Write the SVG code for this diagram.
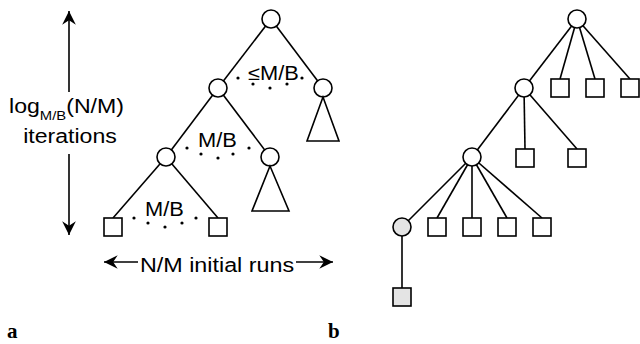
<svg xmlns="http://www.w3.org/2000/svg" width="640" height="344" viewBox="0 0 640 344">
<defs>
<style>
.e{stroke:#000;stroke-width:1.6;fill:none}
.n{fill:#fff;stroke:#000;stroke-width:1.6}
.g{fill:#e4e4e4;stroke:#000;stroke-width:1.6}
.t{font-family:"Liberation Sans",Arial,sans-serif;fill:#000}
.d{fill:#000}
.lab{font-family:"Liberation Serif","Times New Roman",serif;font-weight:bold;font-size:21px;fill:#000}
</style>
<marker id="ah" markerUnits="userSpaceOnUse" markerWidth="16" markerHeight="16" viewBox="-13 -7 14 14" refX="0" refY="0" orient="auto">
<path d="M0,0 L-12,-6 L-8,0 L-12,6 Z" fill="#000"/>
</marker>
</defs>
<rect width="640" height="344" fill="#fff"/>

<g id="connectors">
<!-- panel a -->
<line class="e" x1="271" y1="19" x2="218" y2="88"/>
<line class="e" x1="271" y1="19" x2="323" y2="88"/>
<line class="e" x1="218" y1="88" x2="166" y2="157"/>
<line class="e" x1="218" y1="88" x2="270" y2="157"/>
<line class="e" x1="166" y1="157" x2="113" y2="218"/>
<line class="e" x1="166" y1="157" x2="218" y2="218"/>
<!-- panel b -->
<line class="e" x1="577" y1="19" x2="524" y2="88"/>
<line class="e" x1="577" y1="19" x2="560" y2="79"/>
<line class="e" x1="577" y1="19" x2="595" y2="79"/>
<line class="e" x1="577" y1="19" x2="630" y2="79"/>
<line class="e" x1="524" y1="88" x2="472" y2="157"/>
<line class="e" x1="524" y1="88" x2="525" y2="149"/>
<line class="e" x1="524" y1="88" x2="577" y2="149"/>
<line class="e" x1="472" y1="157" x2="402" y2="227"/>
<line class="e" x1="472" y1="157" x2="437" y2="218"/>
<line class="e" x1="472" y1="157" x2="472" y2="218"/>
<line class="e" x1="472" y1="157" x2="507" y2="218"/>
<line class="e" x1="472" y1="157" x2="542" y2="218"/>
<line class="e" x1="402" y1="227" x2="402" y2="288"/>
<!-- dimension arrows -->
<line class="e" x1="69" y1="92" x2="69" y2="11" marker-end="url(#ah)"/>
<line class="e" x1="69" y1="154" x2="69" y2="235" marker-end="url(#ah)"/>
<line class="e" x1="138" y1="262" x2="104" y2="262" marker-end="url(#ah)"/>
<line class="e" x1="296" y1="262" x2="333" y2="262" marker-end="url(#ah)"/>
</g>

<g id="a-root"><circle class="n" cx="271" cy="19" r="9"/></g>
<g id="a-l1"><circle class="n" cx="218" cy="88" r="9"/></g>
<g id="a-r1"><circle class="n" cx="323" cy="88" r="9"/><polygon class="n" points="323,97 307,141 339,141"/></g>
<g id="a-l2"><circle class="n" cx="166" cy="157" r="9"/></g>
<g id="a-r2"><circle class="n" cx="270" cy="157" r="9"/><polygon class="n" points="270,166 252,211 289,211"/></g>
<g id="a-s1"><rect class="n" x="104" y="218" width="18" height="18"/></g>
<g id="a-s2"><rect class="n" x="209" y="218" width="18" height="18"/></g>

<g id="a-labels">
<g transform="translate(248,80) scale(1.12,1)"><text class="t" x="0" y="0" font-size="19.5">≤M/B</text></g>
<g transform="translate(198,147) scale(1.12,1)"><text class="t" x="0" y="0" font-size="19.5">M/B</text></g>
<g transform="translate(145,216) scale(1.12,1)"><text class="t" x="0" y="0" font-size="19.5">M/B</text></g>
<g class="d">
<circle cx="238" cy="78" r="1.6"/><circle cx="253" cy="84" r="1.6"/><circle cx="270" cy="88" r="1.6"/><circle cx="287" cy="84" r="1.6"/><circle cx="302" cy="78" r="1.6"/>
<circle cx="187" cy="148" r="1.6"/><circle cx="201" cy="154" r="1.6"/><circle cx="218" cy="158" r="1.6"/><circle cx="233" cy="154" r="1.6"/><circle cx="249" cy="148" r="1.6"/>
<circle cx="134" cy="218" r="1.6"/><circle cx="148" cy="223" r="1.6"/><circle cx="165" cy="227" r="1.6"/><circle cx="182" cy="223" r="1.6"/><circle cx="196" cy="218" r="1.6"/>
</g>
<g transform="translate(9,113) scale(1.1,1)">
<text class="t" x="0" y="0" font-size="21">log<tspan font-size="13.5" dy="7">M/B</tspan><tspan dy="-7">(N/M)</tspan></text>
</g>
<g transform="translate(70,143) scale(1.1,1)">
<text class="t" x="0" y="0" font-size="21" text-anchor="middle">iterations</text>
</g>
<g transform="translate(140,272) scale(1.11,1)">
<text class="t" x="0" y="0" font-size="21">N/M initial runs</text>
</g>
</g>

<g id="b-root"><circle class="n" cx="577" cy="19" r="9"/></g>
<g id="b-l1"><circle class="n" cx="524" cy="88" r="9"/></g>
<g id="b-s1"><rect class="n" x="551" y="79" width="18" height="18"/></g>
<g id="b-s2"><rect class="n" x="586" y="79" width="18" height="18"/></g>
<g id="b-s3"><rect class="n" x="621" y="79" width="18" height="18"/></g>
<g id="b-l2"><circle class="n" cx="472" cy="157" r="9"/></g>
<g id="b-s4"><rect class="n" x="516" y="149" width="18" height="18"/></g>
<g id="b-s5"><rect class="n" x="568" y="149" width="18" height="18"/></g>
<g id="b-l3"><circle class="g" cx="402" cy="227" r="9"/></g>
<g id="b-s6"><rect class="n" x="428" y="218" width="18" height="18"/></g>
<g id="b-s7"><rect class="n" x="463" y="218" width="18" height="18"/></g>
<g id="b-s8"><rect class="n" x="498" y="218" width="18" height="18"/></g>
<g id="b-s9"><rect class="n" x="533" y="218" width="18" height="18"/></g>
<g id="b-s10"><rect class="g" x="393" y="288" width="18" height="18"/></g>

<text class="lab" x="7" y="338">a</text>
<text class="lab" x="328" y="338">b</text>
</svg>
